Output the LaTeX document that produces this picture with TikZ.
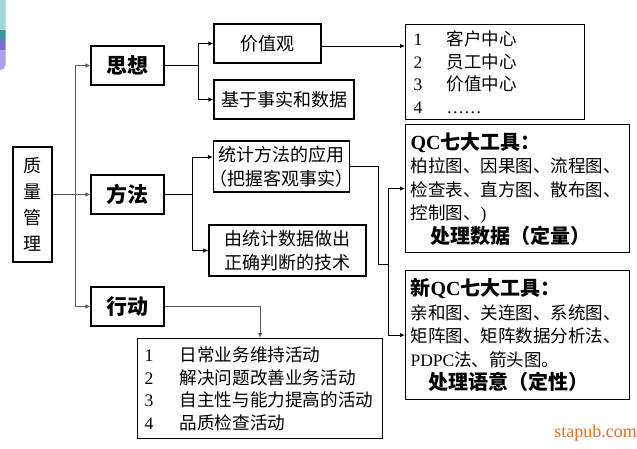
\documentclass[tikz,border=0pt]{standalone}
\usepackage{fontspec}
\setmainfont{Liberation Serif}
\newfontfamily\cjk{Noto Sans CJK SC}
\usetikzlibrary{arrows.meta}
\definecolor{trunkgray}{RGB}{90,90,90}
\definecolor{markorange}{RGB}{224,112,40}
\definecolor{logo-a}{RGB}{160,214,216}
\definecolor{logo-b}{RGB}{60,150,160}
\definecolor{logo-c}{RGB}{120,110,210}
\definecolor{logo-d}{RGB}{170,162,226}
\newcommand{\lat}[1]{{\rmfamily #1}}
\newcommand{\listline}[3]{\makebox[#1][l]{\lat{#2}}#3}
\newcommand{\titlefont}{\bfseries\fontsize{20}{23.5}\selectfont}
\tikzset{
    text-box/.style = {draw, line width=1.2pt, inner sep=0pt, align=center, font=\cjk\fontsize{18}{24}\selectfont},
    head-box/.style = {text-box, minimum width=73pt, minimum height=39pt, font=\cjk\bfseries\fontsize{21}{24}\selectfont},
    side-box/.style = {text-box, minimum width=39pt, minimum height=115pt, font=\cjk\fontsize{18}{26}\selectfont},
    list-box/.style = {draw, line width=1.2pt, anchor=north west, inner xsep=8pt, inner ysep=2pt, align=left, font=\cjk\fontsize{17.5}{22.7}\selectfont},
    tool-box/.style = {list-box, text width=214pt, inner xsep=5pt, minimum height=128pt, font=\cjk\fontsize{17.5}{23.5}\selectfont},
    link/.style = {line width=1pt},
    arrow-link/.style = {link, -{Latex[length=5pt,width=4.5pt]}},
}

\begin{document}
\begin{tikzpicture}[x=1pt, y=-1pt]
\useasboundingbox (0,0) rectangle (637,448);
\begin{scope}
  \clip[rounded corners=5pt] (-10,-10) rectangle (5.5,70);
  \fill[logo-a] (-10,-10) rectangle (6,30);
  \fill[logo-b] (-10,30) rectangle (6,40);
  \fill[logo-c] (-10,40) rectangle (6,50);
  \fill[logo-d] (-10,50) rectangle (6,70);
\end{scope}

\node[side-box] (zlgl) at (32.5,204.5) {质\\量\\管\\理};
\node[head-box] (sx) at (127.5,65.5) {思想};
\node[head-box] (ff) at (127.5,194.5) {方法};
\node[head-box] (xd) at (127.5,306.5) {行动};

\node[text-box, minimum width=107pt, minimum height=39pt] (jzg) at (267.5,43.5) {价值观};
\node[text-box, minimum width=140pt, minimum height=39pt] (jysj) at (284,99.5) {基于事实和数据};
\node[text-box, minimum width=135pt, minimum height=51pt] (tjff) at (281.5,166.5) {统计方法的应用\\\kern-4pt（把握客观事实）\kern-4pt};
\node[text-box, minimum width=157pt, minimum height=51pt] (tjsj) at (287.5,250.5) {由统计数据做出\\正确判断的技术};

\node[list-box, text width=163pt, minimum height=95pt] (zx) at (405,24) {%
  \listline{33pt}{1}{客户中心}\\\listline{33pt}{2}{员工中心}\\
  \listline{33pt}{3}{价值中心}\\\listline{33pt}{4}{\lat{……}}};
\node[tool-box] (qc) at (405,124) {%
  {\titlefont\lat{QC}七大工具：}\\
  柏拉图、因果图、流程图、\\检查表、直方图、散布图、\\控制图、\lat{)}\\
  \hspace*{20pt}{\titlefont 处理数据（定量）}};
\node[tool-box, minimum height=129pt] (xqc) at (405,270) {%
  {\titlefont 新\lat{QC}七大工具：}\\
  亲和图、关连图、系统图、\\矩阵图、矩阵数据分析法、\\\lat{PDPC}法、箭头图。\\
  \hspace*{18pt}{\titlefont 处理语意（定性）}};
\node[list-box, text width=231pt, inner xsep=7pt, minimum height=100pt, font=\cjk\fontsize{17.6}{22.5}\selectfont] (hd) at (137,338) {%
  \listline{35pt}{1}{日常业务维持活动}\\\listline{35pt}{2}{解决问题改善业务活动}\\
  \listline{35pt}{3}{自主性与能力提高的活动}\\\listline{35pt}{4}{品质检查活动}};

\node[font=\fontsize{18}{18}\selectfont, text=markorange, anchor=east, inner sep=0pt] (mark) at (637,433) {stapub.com};

\coordinate (trunk) at ([xshift=23pt]zlgl.east |- ff.west);
\draw[arrow-link, trunkgray, line width=1.3pt] (zlgl.east |- ff.west) -- (ff.west);
\draw[arrow-link, trunkgray, line width=1.3pt] (trunk) |- (sx.west);
\draw[arrow-link, trunkgray, line width=1.3pt] (trunk) |- (xd.west);

\draw[link] (sx.east) -- ++(34,0) coordinate (sx-fork);
\draw[arrow-link] (sx-fork) |- (jzg.west);
\draw[arrow-link] (sx-fork) |- (jysj.west);
\draw[arrow-link] ([yshift=-2.5pt]jzg.east) -- ([yshift=-2.5pt]jzg.east -| zx.west);

\draw[link] (ff.east) -- ++(28,0) coordinate (ff-fork);
\draw[arrow-link] (ff-fork) |- ([yshift=9.5pt]tjff.west);
\draw[arrow-link] (ff-fork) |- (tjsj.west);

\coordinate (tool-join) at (388,264);
\draw[link] (tjff.east) -- ++(28,0) |- (tool-join);
\draw[arrow-link] (tool-join) |- (qc.west);
\draw[arrow-link] (tool-join) |- (xqc.west);

\draw[arrow-link, trunkgray] (xd.east) -| (hd.north);
\end{tikzpicture}
\end{document}
